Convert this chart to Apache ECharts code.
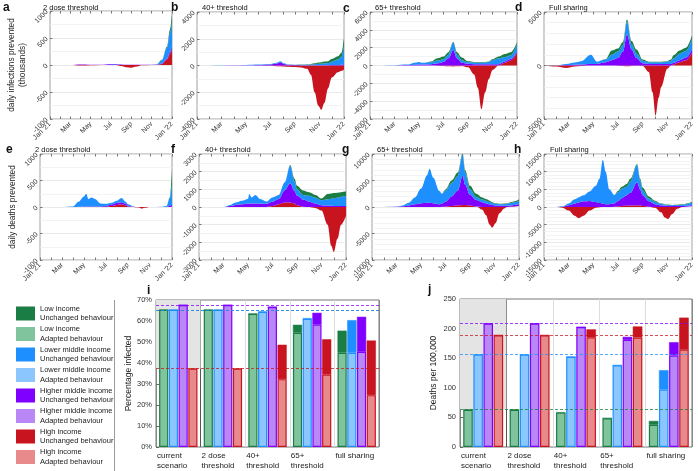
<!DOCTYPE html>
<html><head><meta charset="utf-8">
<script src="https://cdn.jsdelivr.net/npm/echarts@6/dist/echarts.min.js"></script>
<style>html,body{margin:0;padding:0;background:#fff}#c{width:698px;height:471px}</style>
</head><body><div id="c"></div><script>
// ---------- time axis ----------
const monthTicks = [0, 2, 4, 6, 8, 10, 12];
const monthTickLabels = ["Jan '21", "Mar", "May", "Jul", "Sep", "Nov", "Jan '22"];

// ---------- panel a : infections, 2 dose threshold ----------
const a_x = [0,1,2,3,3.5,4,5,6,6.5,7,7.5,8,8.5,9,10,10.5,11,11.5,11.8,12];
const a_red = [0,0,0,-10,-10,-5,0,0,0,-20,-40,-50,-30,-5,0,5,20,100,200,300];
const a_purple = [0,0,0,10,10,5,5,15,15,10,5,5,5,5,5,5,10,20,35,50];
const a_blue = [0,0,0,0,0,0,0,5,5,0,0,0,0,0,0,5,60,200,350,450];
const a_green = [0,0,0,0,0,0,0,0,0,0,0,0,0,0,0,0,5,20,70,150];
// ---------- panel b : infections, 40+ ----------
const b_x = [0,1,2,3,4,5,6,6.5,6.8,7.1,7.5,8,8.5,9,9.3,9.6,9.9,10.15,10.4,10.7,11,11.5,11.8,12];
const b_red = [0,0,0,0,0,0,-20,-50,-60,-80,-100,-120,-150,-250,-700,-2000,-3000,-3300,-2800,-1700,-900,-500,-400,-300];
const b_purple = [0,0,5,10,20,40,80,150,250,120,50,30,20,20,20,20,20,20,20,20,30,40,60,100];
const b_blue = [0,0,5,10,20,30,40,60,70,50,20,20,30,50,60,80,110,120,140,150,250,400,600,1400];
const b_green = [0,0,0,0,0,0,0,0,0,0,0,10,20,30,40,60,90,110,130,150,200,250,300,600];
// ---------- panel c : infections, 65+ ----------
const c_x = [0,1,2,3,3.8,4,4.3,5,5.5,6,6.4,6.8,7.1,7.5,8,8.5,8.8,9.1,9.4,9.7,10,10.5,11,11.5,12];
const c_red = [0,0,0,0,0,0,0,0,-20,-50,-80,-100,-80,-50,-200,-1000,-2500,-4900,-3000,-1500,-500,0,300,600,1400];
const c_purple = [0,0,10,50,80,100,100,150,250,400,800,1750,800,300,200,150,150,150,150,150,150,150,150,150,200];
const c_blue = [0,0,10,50,270,300,200,250,300,300,400,850,400,300,170,200,200,200,200,250,450,650,500,400,800];
const c_green = [0,0,0,0,0,0,0,50,250,300,300,50,300,300,100,50,50,50,50,50,100,200,350,350,200];
// ---------- panel d : infections, full sharing ----------
const d_x = [0,1,1.8,2.5,3,3.8,4.3,5,5.5,6,6.4,6.73,7.1,7.5,8,8.5,8.8,9.05,9.3,9.5,10,10.3,10.5,11,11.5,12];
const d_red = [0,-100,-230,-100,-50,0,0,0,0,-20,-50,-80,-50,-30,-50,-600,-2500,-4700,-3000,-2000,-300,0,100,300,500,1200];
const d_purple = [0,10,50,80,100,150,150,300,500,700,1300,2900,1500,700,200,150,150,150,150,150,150,150,150,200,250,300];
const d_blue = [0,10,100,200,300,850,200,250,500,600,600,1200,500,400,250,150,150,150,150,150,200,300,400,600,600,1000];
const d_green = [0,0,0,0,0,0,0,50,400,300,300,200,300,400,100,50,50,50,50,50,50,100,300,300,300,300];
// ---------- panel e : deaths, 2 dose threshold ----------
const e_x = [0,2,3,3.5,4,4.2,4.4,4.7,5,5.5,6,6.5,7,7.4,7.8,8,8.5,9,9.25,9.5,10,11,11.5,11.8,12];
const e_red = [0,0,0,0,0,0,0,0,0,0,5,20,40,50,30,10,0,-10,-30,-15,0,0,0,0,10];
const e_purple = [0,0,0,5,10,10,10,10,10,10,15,25,40,40,30,15,5,0,0,0,0,0,5,20,40];
const e_blue = [0,0,10,95,190,240,140,170,140,55,40,35,40,80,40,25,5,0,0,0,0,5,15,140,400];
const e_green = [0,0,0,0,0,0,0,0,0,0,0,0,0,0,0,0,0,0,0,0,0,0,0,20,250];
// ---------- panel f : deaths, 40+ ----------
const f_x = [0,2,2.5,3,3.5,4,4.1,4.3,4.6,5,5.5,6,6.5,7,7.45,7.8,8,8.5,9,9.5,10,10.5,10.8,11,11.3,11.6,12];
const f_red = [0,0,0,0,0,0,0,0,0,0,0,50,150,250,250,200,100,20,0,-50,-200,-1000,-2200,-2550,-1800,-1000,-500];
const f_purple = [0,0,60,120,150,200,200,200,200,200,180,250,300,700,1100,700,550,400,300,200,100,80,70,60,60,50,50];
const f_blue = [0,0,40,130,200,250,535,340,480,250,130,240,230,450,980,550,350,260,330,330,280,355,390,430,470,530,590];
const f_green = [0,0,0,0,0,0,0,0,0,0,0,0,0,0,50,150,200,250,200,150,100,300,300,300,280,260,250];
// ---------- panel g : deaths, 65+ ----------
const g_x = [0,1,1.5,2,2.5,3,3.5,4,4.5,4.7,5,5.5,5.7,6,6.5,7,7.4,7.6,8,8.5,9,9.3,9.6,9.8,10.1,10.4,10.8,11,11.5,12];
const g_red = [0,0,0,0,0,0,0,0,0,0,0,0,50,100,200,300,400,400,300,100,-500,-1500,-3300,-3900,-3000,-1200,-300,0,100,200];
const g_purple = [0,0,10,50,150,300,500,700,800,800,700,500,600,900,1800,2800,5500,3800,2000,1200,900,700,500,400,300,250,250,250,250,300];
const g_blue = [0,0,20,50,150,500,1300,2800,5200,6400,4800,2500,1850,2100,2500,2700,4000,2300,1000,600,500,500,450,350,300,250,300,350,500,700];
const g_green = [0,0,0,0,0,0,0,0,0,0,0,0,0,200,500,700,300,500,700,600,400,300,250,150,100,100,100,100,150,200];
// ---------- panel h : deaths, full sharing ----------
const h_x = [0,1,1.5,2,2.5,2.8,3.2,3.7,4.2,4.5,4.77,5,5.3,5.7,6,6.3,6.7,7,7.55,7.8,8,8.5,9,9.5,9.8,10.05,10.4,10.8,11.2,12];
const h_red = [0,0,-200,-1000,-2500,-3200,-2500,-1000,-200,-50,0,0,0,100,200,300,350,400,500,400,300,100,-200,-1500,-3000,-3400,-2000,-500,0,200];
const h_purple = [0,0,100,500,1000,1300,1600,1700,1400,1100,900,800,800,900,1500,2200,3000,3600,6500,4500,3000,1500,800,500,400,300,300,300,300,300];
const h_blue = [0,0,100,500,1200,1400,1700,2700,4600,6900,12500,9200,4200,2400,2500,2700,2350,3200,4900,2500,1400,800,700,350,300,300,200,250,350,700];
const h_green = [0,0,0,0,0,0,0,0,0,0,0,0,0,0,300,500,800,800,300,600,800,600,300,150,100,100,100,100,100,200];

// ---------- bar panels ----------
const scenarios = ['current scenario', '2 dose threshold', '40+ threshold', '65+ threshold', 'full sharing'];
const scenarioLabels = ['current\nscenario', '2 dose\nthreshold', '40+\nthreshold', '65+\nthreshold', 'full sharing'];
const incomeNames = ['Low income', 'Lower middle income', 'Higher middle income', 'High income'];
// panel i: percentage infected
const inf_low_unch = [65.3, 65.3, 63.4, 58.2, 55.4];
const inf_low_adpt = [65.3, 65.3, 63.4, 54.4, 44.8];
const inf_lmid_unch = [65.3, 65.3, 64.4, 61.4, 60.4];
const inf_lmid_adpt = [65.3, 65.3, 64.4, 61.0, 44.8];
const inf_hmid_unch = [67.6, 67.6, 66.7, 63.9, 62.0];
const inf_hmid_adpt = [67.6, 67.6, 66.7, 58.3, 45.3];
const inf_high_unch = [37.3, 37.3, 48.7, 51.3, 50.7];
const inf_high_adpt = [37.3, 37.3, 32.3, 34.5, 24.7];
// panel j: deaths per 100,000
const dth_low_unch = [63, 63, 58.8, 48.6, 44];
const dth_low_adpt = [63, 63, 58, 48.6, 37.5];
const dth_lmid_unch = [156, 156, 152.3, 138, 129.7];
const dth_lmid_adpt = [156, 156, 152.3, 138, 97];
const dth_hmid_unch = [208.6, 208.6, 202.5, 186, 177];
const dth_hmid_adpt = [208.6, 208.6, 202.5, 181, 154.5];
const dth_high_unch = [188.7, 188.7, 198.7, 203.6, 218.5];
const dth_high_adpt = [188.7, 188.7, 185.4, 185, 164.5];

// ---------- styling ----------
const FONT = '"Liberation Sans", Arial, Helvetica, sans-serif';
const DARK = ['#1a7d43', '#1e8fff', '#7f00ff', '#c8141e'];
const LIGHT = ['#7fc49c', '#8cc6ff', '#b987f6', '#e88a8c'];
const AREA_ORDER = [3, 2, 1, 0]; // red, purple, blue, green (bottom to top)
const TXT = '#222';

const tsPanels = [
  {L:'a', t:'2 dose threshold', x:a_x, s:[a_green,a_blue,a_purple,a_red], g:[50,11,122,108], y:[-1000,1000,500,2], lx:3, ly:2, tx:43, ty:4},
  {L:'b', t:'40+ threshold', x:b_x, s:[b_green,b_blue,b_purple,b_red], g:[197,12,147,107], y:[-4000,4000,2000,2], lx:171, ly:2, tx:202, ty:4},
  {L:'c', t:'65+ threshold', x:c_x, s:[c_green,c_blue,c_purple,c_red], g:[370,12,147,107], y:[-6000,6000,2000,2], lx:343, ly:3, tx:375, ty:4},
  {L:'d', t:'Full sharing', x:d_x, s:[d_green,d_blue,d_purple,d_red], g:[544,12,148,107], y:[-5000,5000,5000,5], lx:515, ly:2, tx:549, ty:4},
  {L:'e', t:'2 dose threshold', x:e_x, s:[e_green,e_blue,e_purple,e_red], g:[40,154,132,106], y:[-1000,1000,500,2], lx:6, ly:144, tx:35, ty:146},
  {L:'f', t:'40+ threshold', x:f_x, s:[f_green,f_blue,f_purple,f_red], g:[199,154,147,106], y:[-3000,3000,1000,2], lx:171, ly:144, tx:205, ty:146},
  {L:'g', t:'65+ threshold', x:g_x, s:[g_green,g_blue,g_purple,g_red], g:[372,154,147,106], y:[-10000,10000,5000,5], lx:342, ly:144, tx:377, ty:146},
  {L:'h', t:'Full sharing', x:h_x, s:[h_green,h_blue,h_purple,h_red], g:[544,154,148,106], y:[-15000,15000,5000,5], lx:514, ly:144, tx:550, ty:146}
];

const option = {
  animation: false,
  textStyle: {fontFamily: FONT},
  title: [], grid: [], xAxis: [], yAxis: [], series: [],
  graphic: [
    {type:'line', shape:{x1:114.5, y1:300, x2:114.5, y2:471}, style:{stroke:'#9a9a9a', lineWidth:1}}
  ]
};

function monthLabel(v) {
  const i = monthTicks.indexOf(v);
  return i >= 0 ? monthTickLabels[i] : '';
}

const nTs = tsPanels.length;
tsPanels.forEach((p, idx) => {
  option.title.push({text:p.L, left:p.lx, top:p.ly, padding:0, textStyle:{fontSize:12, fontWeight:'bold', color:'#111', fontFamily:FONT}});
  option.title.push({text:p.t, left:p.tx, top:p.ty, padding:0, textStyle:{fontSize:7.5, fontWeight:'normal', color:'#111', fontFamily:FONT}});
  option.grid.push({left:p.g[0], top:p.g[1], width:p.g[2], height:p.g[3], show:true, borderColor:'#a0a0a0', borderWidth:1});
  option.xAxis[idx] = {
    gridIndex: idx, type:'value', position:'bottom', min:0, max:12, interval:1,
    axisLine:{show:false, onZero:false}, splitLine:{show:false},
    axisTick:{show:true, inside:true, length:2.5, lineStyle:{color:'#777'}},
    axisLabel:{rotate:45, fontSize:7, color:'#333', margin:4, formatter: monthLabel, showMinLabel:true, showMaxLabel:true}
  };
  // top tick marks (no labels)
  option.xAxis[nTs + idx] = {
    gridIndex: idx, type:'value', position:'top', min:0, max:12, interval:1,
    axisLine:{show:false, onZero:false}, splitLine:{show:false}, axisLabel:{show:false},
    axisTick:{show:true, inside:true, length:2.5, lineStyle:{color:'#777'}}
  };
  const yax = {
    gridIndex: idx, type:'value', min:p.y[0], max:p.y[1], interval:p.y[2],
    axisLine:{show:false, onZero:false},
    axisTick:{show:true, inside:true, length:2.5, lineStyle:{color:'#777'}},
    splitLine:{show:true, lineStyle:{color:'#e4e4e4', width:0.8}},
    minorTick:{show:false, splitNumber:p.y[3]},
    minorSplitLine:{show:true, lineStyle:{color:'#eeeeee', width:0.7}},
    axisLabel:{rotate:45, fontSize:7, color:'#333', margin:3, formatter: v => String(v)}
  };
  if (idx === 0) { yax.name = 'daily infections prevented\n(thousands)'; yax.nameLocation='middle'; yax.nameGap=22; yax.nameTextStyle={fontSize:8.3, color:TXT, lineHeight:11}; }
  if (idx === 4) { yax.name = 'daily deaths prevented'; yax.nameLocation='middle'; yax.nameGap=23; yax.nameTextStyle={fontSize:8.3, color:TXT}; }
  option.yAxis.push(yax);
  AREA_ORDER.forEach(k => {
    // data rows are [value, month]; encode maps them so the stack runs on the value dimension
    option.series.push({
      type:'line', xAxisIndex:idx, yAxisIndex:idx, stack:'ts'+idx, stackStrategy:'samesign',
      encode:{x:1, y:0},
      smooth:0.35, smoothMonotone:'x', symbol:'none', silent:true,
      lineStyle:{width:0}, areaStyle:{color:DARK[k], opacity:1},
      data: p.x.map((xv, i) => [p.s[k][i], xv])
    });
  });
});

// ---------- bar panels ----------
const barPanels = [
  {L:'i', lx:147, ly:285, g:[156,300,223,150], max:70, interval:10, fmt: v => v + '%', name:'Percentage infected',
   unch:[inf_low_unch, inf_lmid_unch, inf_hmid_unch, inf_high_unch], adpt:[inf_low_adpt, inf_lmid_adpt, inf_hmid_adpt, inf_high_adpt]},
  {L:'j', lx:428, ly:284, g:[460,299,232,151], max:250, interval:50, fmt: v => String(v), name:'Deaths per 100,000',
   unch:[dth_low_unch, dth_lmid_unch, dth_hmid_unch, dth_high_unch], adpt:[dth_low_adpt, dth_lmid_adpt, dth_hmid_adpt, dth_high_adpt]}
];

barPanels.forEach((p, bi) => {
  const gi = nTs + bi;
  const xMain = option.xAxis.length;
  option.title.push({text:p.L, left:p.lx, top:p.ly, padding:0, textStyle:{fontSize:12, fontWeight:'bold', color:'#111', fontFamily:FONT}});
  option.grid.push({left:p.g[0], top:p.g[1], width:p.g[2], height:p.g[3], show:true, borderColor:'#777', borderWidth:1});
  option.xAxis.push({gridIndex:gi, type:'category', position:'bottom', data:scenarios, axisLine:{show:false}, axisTick:{show:false}, axisLabel:{show:false}, splitLine:{show:false}});
  option.xAxis.push({gridIndex:gi, type:'category', position:'bottom', offset:0, boundaryGap:false, data:scenarioLabels.concat(['']),
    axisLine:{show:false}, axisTick:{show:false},
    axisLabel:{interval:0, align:'left', fontSize:8, lineHeight:10, color:TXT, margin:4, padding:[0,0,0,1]},
    splitLine:{show:true, interval:0, lineStyle:{color:['#888','#555','#dddddd','#dddddd','#dddddd','#888'], width:1}}});
  option.yAxis.push({gridIndex:gi, type:'value', min:0, max:p.max, interval:p.interval,
    axisLine:{show:false}, splitLine:{show:false},
    axisTick:{show:true, inside:true, length:3, lineStyle:{color:'#666'}},
    axisLabel:{fontSize:7.5, color:'#333', margin:4, formatter:p.fmt},
    name:p.name, nameLocation:'middle', nameGap:22, nameTextStyle:{fontSize:8.5, color:TXT}});
  const yi = gi;
  const current = p.adpt.map(a => a[0]);
  option.series.push({
    type:'line', xAxisIndex:xMain+1, yAxisIndex:yi, data:[], silent:true, z:1,
    markArea:{silent:true, itemStyle:{color:'#e4e4e4'}, data:[[{xAxis:0, yAxis:Math.min(...current)}, {xAxis:1, yAxis:p.max}]]},
    markLine:{silent:true, symbol:'none', label:{show:false},
      data: current.map((v, k) => ({yAxis:v, lineStyle:{color:DARK[k], type:[3,2], width:1, opacity:0.75}}))}
  });
  for (let k = 0; k < 4; k++) {
    option.series.push({
      name: incomeNames[k] + '\nAdapted behaviour', type:'bar', xAxisIndex:xMain, yAxisIndex:yi, stack:'b'+bi+'_'+k, z:3,
      barCategoryGap:'14%', barGap:'6%',
      itemStyle:{color:LIGHT[k], borderColor:DARK[k], borderWidth:1.2},
      data: p.adpt[k]
    });
    option.series.push({
      name: incomeNames[k] + '\nUnchanged behaviour', type:'bar', xAxisIndex:xMain, yAxisIndex:yi, stack:'b'+bi+'_'+k, z:3,
      barCategoryGap:'14%', barGap:'6%',
      itemStyle:{color:DARK[k], borderColor:DARK[k], borderWidth:0.5},
      data: p.unch[k].map((u, i) => +(u - p.adpt[k][i]).toFixed(2))
    });
  }
});

const legendData = [];
incomeNames.forEach(n => { legendData.push(n + '\nUnchanged behaviour'); legendData.push(n + '\nAdapted behaviour'); });
option.legend = {
  data: legendData, orient:'vertical', left:16, top:304, padding:0, itemWidth:19, itemHeight:14, itemGap:1.5,
  icon:'rect', itemStyle:{borderWidth:0}, selectedMode:false,
  textStyle:{fontSize:7.5, lineHeight:9.5, color:TXT, fontFamily:FONT}
};

const chart = echarts.init(document.getElementById('c'), null, {renderer:'canvas'});
chart.setOption(option);
</script></body></html>
